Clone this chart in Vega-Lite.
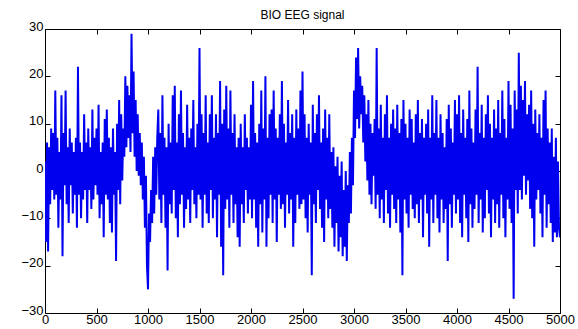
{
  "$schema": "https://vega.github.io/schema/vega-lite/v6.json",
  "width": 515,
  "height": 284,
  "autosize": {"type": "none"},
  "padding": {"left": 45, "top": 29, "right": 18, "bottom": 16},
  "title": {"text": "BIO EEG signal", "font": "Liberation Sans", "fontSize": 12, "fontWeight": "normal", "color": "#000000", "offset": -2},
  "config": {
    "view": {"stroke": "#000000", "strokeWidth": 1},
    "axis": {"grid": false, "domain": false, "tickColor": "#000000", "tickSize": -5, "labelFont": "Liberation Sans", "labelFontSize": 13, "labelColor": "#000000", "title": null, "format": "d"}
  },
  "data": {"values": [
{"t":0,"v":2},{"t":10,"v":-15},{"t":20,"v":6},{"t":30,"v":-17},{"t":40,"v":5},{"t":50,"v":-7},{"t":60,"v":9},{"t":70,"v":-4},{"t":80,"v":8},{"t":90,"v":-6},
{"t":100,"v":17},{"t":110,"v":-5},{"t":120,"v":7},{"t":130,"v":-12},{"t":140,"v":4},{"t":150,"v":-6},{"t":160,"v":16},{"t":170,"v":-18},{"t":180,"v":8},{"t":190,"v":-3},
{"t":200,"v":17},{"t":210,"v":-7},{"t":220,"v":5},{"t":230,"v":-11},{"t":240,"v":9},{"t":250,"v":-3},{"t":260,"v":6},{"t":270,"v":-9},{"t":280,"v":4},{"t":290,"v":-5},
{"t":300,"v":7},{"t":310,"v":-12},{"t":320,"v":22},{"t":330,"v":-5},{"t":340,"v":6},{"t":350,"v":-10},{"t":360,"v":4},{"t":370,"v":-6},{"t":380,"v":12},{"t":390,"v":-4},
{"t":400,"v":6},{"t":410,"v":-11},{"t":420,"v":9},{"t":430,"v":-4},{"t":440,"v":5},{"t":450,"v":-8},{"t":460,"v":13},{"t":470,"v":-6},{"t":480,"v":7},{"t":490,"v":-3},
{"t":500,"v":9},{"t":510,"v":-5},{"t":520,"v":14},{"t":530,"v":-10},{"t":540,"v":4},{"t":550,"v":-7},{"t":560,"v":6},{"t":570,"v":-14},{"t":580,"v":11},{"t":590,"v":-5},
{"t":600,"v":13},{"t":610,"v":-6},{"t":620,"v":7},{"t":630,"v":-11},{"t":640,"v":5},{"t":650,"v":-13},{"t":660,"v":9},{"t":670,"v":-5},{"t":680,"v":4},{"t":690,"v":-19},
{"t":700,"v":10},{"t":710,"v":-4},{"t":720,"v":15},{"t":730,"v":-7},{"t":740,"v":12},{"t":750,"v":-2},{"t":760,"v":9},{"t":770,"v":3},{"t":780,"v":20},{"t":790,"v":5},
{"t":800,"v":18},{"t":810,"v":7},{"t":820,"v":16},{"t":830,"v":4},{"t":840,"v":29},{"t":850,"v":8},{"t":860,"v":21},{"t":870,"v":3},{"t":880,"v":15},{"t":890,"v":0},
{"t":900,"v":12},{"t":910,"v":-1},{"t":920,"v":8},{"t":930,"v":-3},{"t":940,"v":6},{"t":950,"v":-6},{"t":960,"v":3},{"t":970,"v":-12},{"t":980,"v":-1},{"t":990,"v":-20},
{"t":1000,"v":-25},{"t":1010,"v":-9},{"t":1020,"v":-15},{"t":1030,"v":-4},{"t":1040,"v":-11},{"t":1050,"v":3},{"t":1060,"v":-9},{"t":1070,"v":5},{"t":1080,"v":-5},{"t":1090,"v":7},
{"t":1100,"v":13},{"t":1110,"v":-6},{"t":1120,"v":8},{"t":1130,"v":-11},{"t":1140,"v":16},{"t":1150,"v":-5},{"t":1160,"v":7},{"t":1170,"v":-12},{"t":1180,"v":5},{"t":1190,"v":-21},
{"t":1200,"v":10},{"t":1210,"v":-7},{"t":1220,"v":6},{"t":1230,"v":-9},{"t":1240,"v":16},{"t":1250,"v":-4},{"t":1260,"v":18},{"t":1270,"v":-10},{"t":1280,"v":6},{"t":1290,"v":-14},
{"t":1300,"v":12},{"t":1310,"v":-7},{"t":1320,"v":17},{"t":1330,"v":-5},{"t":1340,"v":8},{"t":1350,"v":-12},{"t":1360,"v":5},{"t":1370,"v":-8},{"t":1380,"v":14},{"t":1390,"v":-6},
{"t":1400,"v":7},{"t":1410,"v":-11},{"t":1420,"v":9},{"t":1430,"v":-4},{"t":1440,"v":15},{"t":1450,"v":-7},{"t":1460,"v":5},{"t":1470,"v":-10},{"t":1480,"v":10},{"t":1490,"v":-5},
{"t":1500,"v":26},{"t":1510,"v":-6},{"t":1520,"v":12},{"t":1530,"v":-12},{"t":1540,"v":8},{"t":1550,"v":-5},{"t":1560,"v":16},{"t":1570,"v":-9},{"t":1580,"v":6},{"t":1590,"v":-11},
{"t":1600,"v":12},{"t":1610,"v":-4},{"t":1620,"v":16},{"t":1630,"v":-10},{"t":1640,"v":7},{"t":1650,"v":-6},{"t":1660,"v":12},{"t":1670,"v":-14},{"t":1680,"v":8},{"t":1690,"v":-5},
{"t":1700,"v":19},{"t":1710,"v":-16},{"t":1720,"v":10},{"t":1730,"v":-22},{"t":1740,"v":13},{"t":1750,"v":-8},{"t":1760,"v":18},{"t":1770,"v":-6},{"t":1780,"v":9},{"t":1790,"v":-12},
{"t":1800,"v":17},{"t":1810,"v":-5},{"t":1820,"v":8},{"t":1830,"v":-11},{"t":1840,"v":12},{"t":1850,"v":-7},{"t":1860,"v":5},{"t":1870,"v":-14},{"t":1880,"v":7},{"t":1890,"v":-16},
{"t":1900,"v":10},{"t":1910,"v":-7},{"t":1920,"v":5},{"t":1930,"v":-11},{"t":1940,"v":12},{"t":1950,"v":-4},{"t":1960,"v":7},{"t":1970,"v":-9},{"t":1980,"v":5},{"t":1990,"v":-6},
{"t":2000,"v":14},{"t":2010,"v":-10},{"t":2020,"v":19},{"t":2030,"v":-6},{"t":2040,"v":8},{"t":2050,"v":-12},{"t":2060,"v":6},{"t":2070,"v":-16},{"t":2080,"v":10},{"t":2090,"v":-7},
{"t":2100,"v":17},{"t":2110,"v":-13},{"t":2120,"v":9},{"t":2130,"v":-6},{"t":2140,"v":20},{"t":2150,"v":-16},{"t":2160,"v":7},{"t":2170,"v":-10},{"t":2180,"v":12},{"t":2190,"v":-5},
{"t":2200,"v":13},{"t":2210,"v":-11},{"t":2220,"v":17},{"t":2230,"v":-6},{"t":2240,"v":9},{"t":2250,"v":-15},{"t":2260,"v":7},{"t":2270,"v":-5},{"t":2280,"v":12},{"t":2290,"v":-8},
{"t":2300,"v":19},{"t":2310,"v":-7},{"t":2320,"v":10},{"t":2330,"v":-12},{"t":2340,"v":6},{"t":2350,"v":-5},{"t":2360,"v":15},{"t":2370,"v":-9},{"t":2380,"v":8},{"t":2390,"v":-6},
{"t":2400,"v":12},{"t":2410,"v":-16},{"t":2420,"v":7},{"t":2430,"v":-11},{"t":2440,"v":13},{"t":2450,"v":-5},{"t":2460,"v":9},{"t":2470,"v":-8},{"t":2480,"v":17},{"t":2490,"v":-7},
{"t":2500,"v":21},{"t":2510,"v":-6},{"t":2520,"v":12},{"t":2530,"v":-10},{"t":2540,"v":7},{"t":2550,"v":-13},{"t":2560,"v":10},{"t":2570,"v":-5},{"t":2580,"v":6},{"t":2590,"v":-22},
{"t":2600,"v":14},{"t":2610,"v":-7},{"t":2620,"v":8},{"t":2630,"v":-11},{"t":2640,"v":12},{"t":2650,"v":-4},{"t":2660,"v":16},{"t":2670,"v":-8},{"t":2680,"v":6},{"t":2690,"v":-12},
{"t":2700,"v":9},{"t":2710,"v":-15},{"t":2720,"v":13},{"t":2730,"v":-6},{"t":2740,"v":7},{"t":2750,"v":-10},{"t":2760,"v":12},{"t":2770,"v":-8},{"t":2780,"v":4},{"t":2790,"v":-12},
{"t":2800,"v":5},{"t":2810,"v":-16},{"t":2820,"v":1},{"t":2830,"v":-11},{"t":2840,"v":3},{"t":2850,"v":-17},{"t":2860,"v":-1},{"t":2870,"v":-14},{"t":2880,"v":2},{"t":2890,"v":-18},
{"t":2900,"v":-4},{"t":2910,"v":-16},{"t":2920,"v":0},{"t":2930,"v":-19},{"t":2940,"v":-3},{"t":2950,"v":-11},{"t":2960,"v":4},{"t":2970,"v":-9},{"t":2980,"v":7},{"t":2990,"v":-3},
{"t":3000,"v":17},{"t":3010,"v":7},{"t":3020,"v":24},{"t":3030,"v":11},{"t":3040,"v":26},{"t":3050,"v":9},{"t":3060,"v":20},{"t":3070,"v":12},{"t":3080,"v":18},{"t":3090,"v":6},
{"t":3100,"v":16},{"t":3110,"v":2},{"t":3120,"v":12},{"t":3130,"v":-2},{"t":3140,"v":15},{"t":3150,"v":-5},{"t":3160,"v":10},{"t":3170,"v":-7},{"t":3180,"v":8},{"t":3190,"v":-1},
{"t":3200,"v":11},{"t":3210,"v":-8},{"t":3220,"v":26},{"t":3230,"v":-5},{"t":3240,"v":9},{"t":3250,"v":-10},{"t":3260,"v":14},{"t":3270,"v":-6},{"t":3280,"v":7},{"t":3290,"v":-11},
{"t":3300,"v":12},{"t":3310,"v":-4},{"t":3320,"v":16},{"t":3330,"v":-9},{"t":3340,"v":7},{"t":3350,"v":-12},{"t":3360,"v":10},{"t":3370,"v":-5},{"t":3380,"v":13},{"t":3390,"v":-8},
{"t":3400,"v":9},{"t":3410,"v":-11},{"t":3420,"v":14},{"t":3430,"v":-6},{"t":3440,"v":8},{"t":3450,"v":-13},{"t":3460,"v":11},{"t":3470,"v":-22},{"t":3480,"v":15},{"t":3490,"v":-6},
{"t":3500,"v":10},{"t":3510,"v":-9},{"t":3520,"v":7},{"t":3530,"v":-12},{"t":3540,"v":13},{"t":3550,"v":-5},{"t":3560,"v":11},{"t":3570,"v":-8},{"t":3580,"v":6},{"t":3590,"v":-10},
{"t":3600,"v":12},{"t":3610,"v":-7},{"t":3620,"v":15},{"t":3630,"v":-11},{"t":3640,"v":8},{"t":3650,"v":-6},{"t":3660,"v":11},{"t":3670,"v":-14},{"t":3680,"v":7},{"t":3690,"v":-5},
{"t":3700,"v":10},{"t":3710,"v":-9},{"t":3720,"v":13},{"t":3730,"v":-16},{"t":3740,"v":7},{"t":3750,"v":-6},{"t":3760,"v":16},{"t":3770,"v":-11},{"t":3780,"v":8},{"t":3790,"v":-5},
{"t":3800,"v":15},{"t":3810,"v":-10},{"t":3820,"v":7},{"t":3830,"v":-13},{"t":3840,"v":12},{"t":3850,"v":-6},{"t":3860,"v":8},{"t":3870,"v":-11},{"t":3880,"v":5},{"t":3890,"v":-8},
{"t":3900,"v":11},{"t":3910,"v":-19},{"t":3920,"v":14},{"t":3930,"v":-7},{"t":3940,"v":9},{"t":3950,"v":-12},{"t":3960,"v":6},{"t":3970,"v":-5},{"t":3980,"v":15},{"t":3990,"v":-9},
{"t":4000,"v":12},{"t":4010,"v":-6},{"t":4020,"v":16},{"t":4030,"v":-11},{"t":4040,"v":8},{"t":4050,"v":-14},{"t":4060,"v":13},{"t":4070,"v":-5},{"t":4080,"v":7},{"t":4090,"v":-10},
{"t":4100,"v":11},{"t":4110,"v":-15},{"t":4120,"v":17},{"t":4130,"v":-7},{"t":4140,"v":9},{"t":4150,"v":-12},{"t":4160,"v":6},{"t":4170,"v":-8},{"t":4180,"v":13},{"t":4190,"v":-5},
{"t":4200,"v":22},{"t":4210,"v":-11},{"t":4220,"v":8},{"t":4230,"v":-6},{"t":4240,"v":14},{"t":4250,"v":-13},{"t":4260,"v":7},{"t":4270,"v":-10},{"t":4280,"v":12},{"t":4290,"v":-4},
{"t":4300,"v":16},{"t":4310,"v":-9},{"t":4320,"v":10},{"t":4330,"v":-14},{"t":4340,"v":7},{"t":4350,"v":-6},{"t":4360,"v":13},{"t":4370,"v":-11},{"t":4380,"v":9},{"t":4390,"v":-7},
{"t":4400,"v":15},{"t":4410,"v":-12},{"t":4420,"v":8},{"t":4430,"v":-5},{"t":4440,"v":17},{"t":4450,"v":-10},{"t":4460,"v":11},{"t":4470,"v":-14},{"t":4480,"v":7},{"t":4490,"v":-6},
{"t":4500,"v":19},{"t":4510,"v":-8},{"t":4520,"v":14},{"t":4530,"v":-11},{"t":4540,"v":9},{"t":4550,"v":-27},{"t":4560,"v":17},{"t":4570,"v":-4},{"t":4580,"v":13},{"t":4590,"v":-9},
{"t":4600,"v":25},{"t":4610,"v":-4},{"t":4620,"v":18},{"t":4630,"v":-6},{"t":4640,"v":15},{"t":4650,"v":-1},{"t":4660,"v":19},{"t":4670,"v":-5},{"t":4680,"v":12},{"t":4690,"v":-2},
{"t":4700,"v":14},{"t":4710,"v":-8},{"t":4720,"v":17},{"t":4730,"v":-10},{"t":4740,"v":10},{"t":4750,"v":-16},{"t":4760,"v":13},{"t":4770,"v":-6},{"t":4780,"v":8},{"t":4790,"v":-4},
{"t":4800,"v":12},{"t":4810,"v":-9},{"t":4820,"v":7},{"t":4830,"v":-14},{"t":4840,"v":15},{"t":4850,"v":-5},{"t":4860,"v":17},{"t":4870,"v":-12},{"t":4880,"v":9},{"t":4890,"v":-7},
{"t":4900,"v":6},{"t":4910,"v":-11},{"t":4920,"v":9},{"t":4930,"v":-15},{"t":4940,"v":3},{"t":4950,"v":-13},{"t":4960,"v":7},{"t":4970,"v":-14},{"t":4980,"v":2},{"t":4990,"v":-12},
{"t":5000,"v":-14}
  ]},
  "layer": [
    {
      "mark": {"type": "line", "color": "#0000ee", "strokeWidth": 2, "clip": true},
      "encoding": {
        "x": {"field": "t", "type": "quantitative", "scale": {"domain": [0, 5000], "nice": false, "zero": false}, "axis": {"orient": "bottom", "values": [0,500,1000,1500,2000,2500,3000,3500,4000,4500,5000], "labelPadding": 5, "labelFlush": false}},
        "y": {"field": "v", "type": "quantitative", "scale": {"domain": [-30, 30], "nice": false}, "axis": {"orient": "left", "values": [-30,-20,-10,0,10,20,30], "labelPadding": 7, "labelOffset": -3}}
      }
    },
    {
      "mark": {"type": "line", "strokeOpacity": 0},
      "encoding": {
        "x": {"field": "t", "type": "quantitative", "scale": {"domain": [0, 5000], "nice": false, "zero": false}, "axis": {"orient": "top", "values": [0,500,1000,1500,2000,2500,3000,3500,4000,4500,5000], "labels": false}},
        "y": {"field": "v", "type": "quantitative", "scale": {"domain": [-30, 30], "nice": false}, "axis": {"orient": "right", "values": [-30,-20,-10,0,10,20,30], "labels": false}}
      }
    }
  ],
  "resolve": {"axis": {"x": "independent", "y": "independent"}}
}
